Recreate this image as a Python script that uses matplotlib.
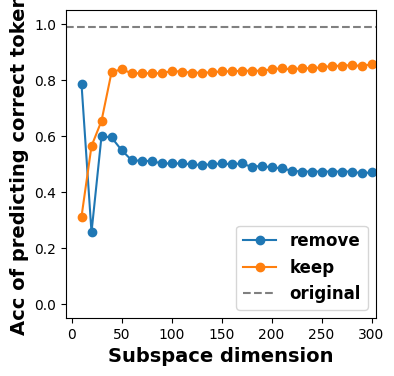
import matplotlib
matplotlib.use("Agg")
import matplotlib.pyplot as plt

dims = list(range(10, 301, 10))
remove = [0.786, 0.256, 0.599, 0.595, 0.550, 0.514, 0.511, 0.511, 0.502, 0.502,
          0.502, 0.499, 0.496, 0.499, 0.502, 0.499, 0.502, 0.490, 0.493, 0.488,
          0.485, 0.476, 0.473, 0.473, 0.473, 0.473, 0.473, 0.473, 0.467, 0.470]
keep = [0.312, 0.564, 0.654, 0.827, 0.839, 0.824, 0.824, 0.824, 0.824, 0.832,
        0.830, 0.826, 0.826, 0.827, 0.831, 0.831, 0.833, 0.833, 0.833, 0.838,
        0.842, 0.838, 0.842, 0.842, 0.845, 0.850, 0.851, 0.853, 0.850, 0.856]
original = 0.989

fig = plt.figure(figsize=(3.94, 3.76), dpi=100)
ax = fig.add_axes([66/394, 1-318/376, (376-66)/394, (318-10)/376])
ax.plot(dims, remove, marker='o', label='remove')
ax.plot(dims, keep, marker='o', label='keep')
ax.axhline(original, color='gray', linestyle='--', label='original')
ax.set_xlim(-5.5, 304.5)
ax.set_ylim(-0.05, 1.05)
ax.set_xticks([0, 50, 100, 150, 200, 250, 300])
ax.set_yticks([0.0, 0.2, 0.4, 0.6, 0.8, 1.0])
ax.set_xlabel('Subspace dimension', fontsize=14, fontweight='bold')
ax.set_ylabel('Acc of predicting correct token', fontsize=14, fontweight='bold')
ax.legend(loc='lower right', prop={'weight': 'bold', 'size': 12})
fig.savefig('out.png', dpi=100)
